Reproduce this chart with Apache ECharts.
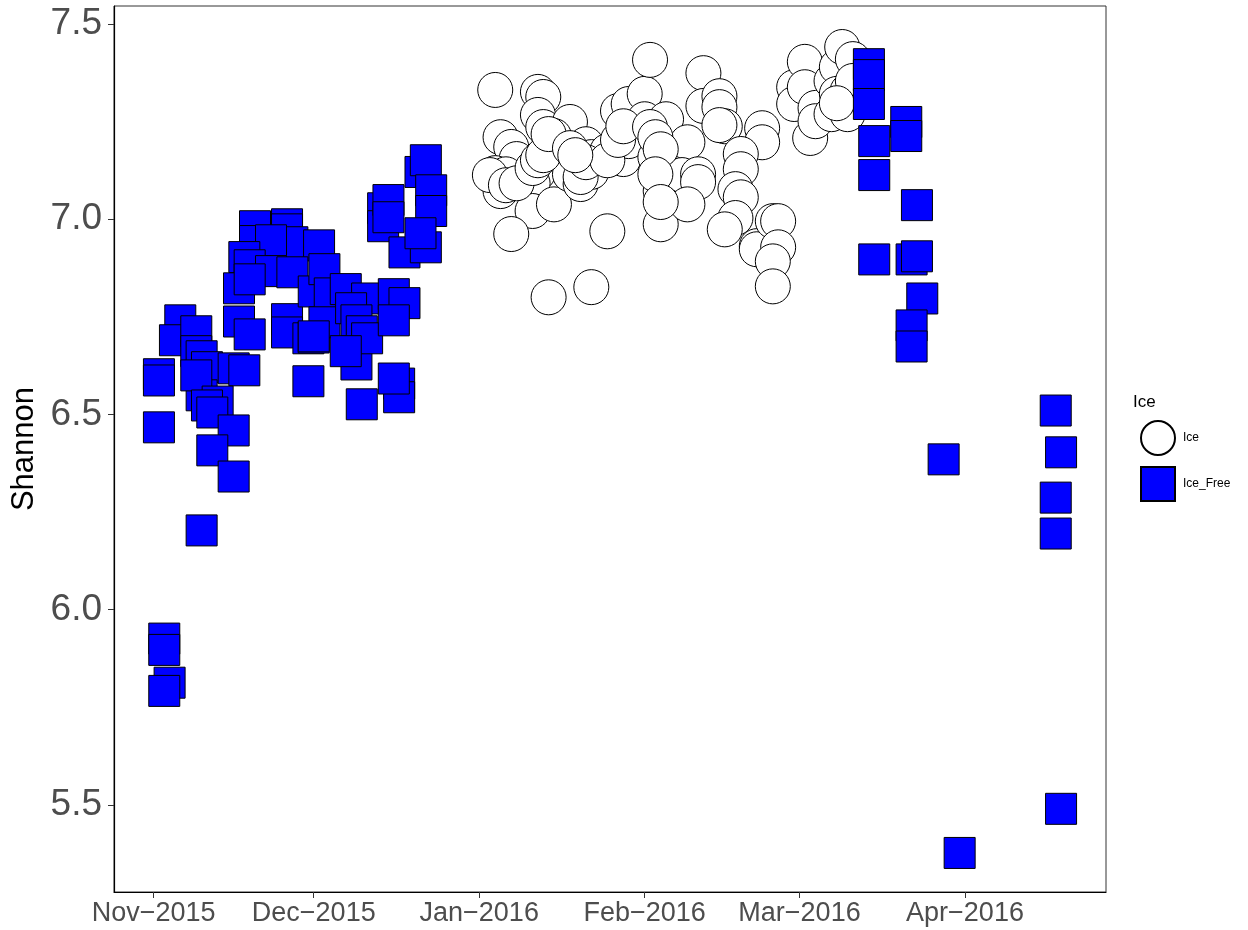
<!DOCTYPE html>
<html>
<head>
<meta charset="utf-8">
<script src="https://cdn.jsdelivr.net/npm/echarts@6/dist/echarts.min.js"></script>
<style>
html,body{margin:0;padding:0;background:#fff;}
#chart{width:1248px;height:930px;}
</style>
</head>
<body>
<div id="chart"></div>
<script>
// ---- Data ----
const tickDates = ['2015-11-01','2015-12-01','2016-01-01','2016-02-01','2016-03-01','2016-04-01'];
const tickLabels = ['Nov\u22122015','Dec\u22122015','Jan\u22122016','Feb\u22122016','Mar\u22122016','Apr\u22122016'];
const yTicks = [5.5, 6.0, 6.5, 7.0, 7.5];

const iceDates = [
'2016-01-04','2016-01-12','2016-01-13','2016-01-12','2016-01-05','2016-01-07','2016-01-08','2016-01-04','2016-01-05','2016-01-06',
'2016-01-13','2016-01-18','2016-01-15','2016-01-15','2016-01-12','2016-01-11','2016-01-11','2016-01-15','2016-01-18','2016-01-21',
'2016-01-22','2016-01-20','2016-01-22','2016-01-07','2016-01-25','2016-01-14','2016-01-22','2016-01-25','2016-01-27','2016-01-28',
'2016-01-29','2016-02-01','2016-02-02','2016-02-01','2016-01-29','2016-02-03','2016-02-04','2016-02-04','2016-02-05','2016-02-09',
'2016-02-05','2016-02-08','2016-02-11','2016-02-11','2016-02-09','2016-02-12','2016-02-12','2016-02-15','2016-02-15','2016-02-16',
'2016-02-15','2016-02-23','2016-02-23','2016-02-19','2016-02-19','2016-02-18','2016-02-19','2016-02-18','2016-02-16','2016-02-22',
'2016-02-22','2016-02-25','2016-02-26','2016-02-26','2016-02-25','2016-02-25','2016-02-29','2016-03-02','2016-02-29','2016-03-02',
'2016-03-03','2016-03-04','2016-03-04','2016-03-07','2016-03-08','2016-03-09','2016-03-11','2016-03-07','2016-03-10','2016-03-08',
'2016-03-10','2016-03-11','2016-03-08','2016-01-20','2016-01-21','2016-01-25','2016-01-27','2016-01-28','2016-02-02','2016-02-03',
'2016-02-04','2016-02-03','2016-02-04','2016-01-03','2016-01-06','2016-01-08','2016-01-11','2016-01-12','2016-01-13','2016-01-14',
'2016-01-18','2016-01-19'
];
const iceShannon = [
7.331,7.326,7.313,7.267,7.210,7.185,7.154,7.118,7.072,7.115,
7.236,7.249,7.213,7.179,7.118,7.092,7.021,7.038,7.115,7.192,
7.159,7.090,7.121,6.962,6.969,6.800,6.826,7.174,7.277,7.154,
7.295,7.321,7.408,7.256,7.200,7.159,7.072,6.987,7.256,7.197,
7.110,7.113,7.115,7.095,7.038,7.374,7.290,7.315,7.287,7.238,
7.241,7.233,7.197,7.167,7.128,7.077,7.056,7.003,6.974,6.931,
6.923,6.995,6.995,6.928,6.892,6.828,7.338,7.403,7.295,7.338,
7.208,7.285,7.251,7.354,7.390,7.441,7.410,7.269,7.269,7.321,
7.328,7.354,7.297,7.108,7.146,7.151,7.203,7.238,7.236,7.210,
7.179,7.115,7.044,7.113,7.087,7.092,7.131,7.151,7.164,7.218,
7.182,7.164
];

const freeDates = [
'2015-11-02','2015-11-02','2015-11-02','2015-11-03','2015-11-03','2015-11-04','2015-11-03',
'2015-11-06','2015-11-05','2015-11-09','2015-11-09','2015-11-10','2015-11-11','2015-11-16','2015-11-18','2015-11-10','2015-11-09',
'2015-11-13','2015-11-11','2015-11-12','2015-11-16','2015-11-12','2015-11-16','2015-11-10','2015-11-17','2015-11-19','2015-11-30',
'2015-12-10','2015-12-17','2015-12-17','2015-12-16','2015-12-09',
'2015-11-20','2015-11-26','2015-11-26','2015-11-27','2015-12-02','2015-11-20','2015-11-23','2015-11-18','2015-11-19','2015-11-23',
'2015-11-27','2015-11-17','2015-11-19','2015-11-26','2015-11-26','2015-11-30','2015-12-01','2015-12-01','2015-12-03','2015-12-04',
'2015-12-03','2015-12-07','2015-12-11','2015-12-16','2015-12-18','2015-12-08','2015-12-09','2015-12-10','2015-12-11','2015-12-16',
'2015-12-07','2015-12-14','2015-12-14','2015-12-15','2015-12-15','2015-12-18','2015-12-21','2015-12-22','2015-12-23','2015-12-23',
'2015-12-22','2015-12-21','2015-12-01',
'2016-03-14','2016-03-14','2016-03-14','2016-03-15','2016-03-15','2016-03-21','2016-03-21','2016-03-23','2016-03-15','2016-03-22',
'2016-03-23','2016-03-24','2016-03-22','2016-03-22','2016-03-28','2016-03-31','2016-04-18','2016-04-19','2016-04-18','2016-04-18',
'2016-04-19'
];
const freeShannon = [
6.603,6.587,6.467,5.926,5.897,5.813,5.792,
6.741,6.690,6.713,6.662,6.649,6.621,6.618,6.613,6.549,6.600,
6.533,6.523,6.505,6.459,6.408,6.341,6.203,6.738,6.705,6.585,
6.526,6.579,6.544,6.592,6.628,
6.982,6.987,6.974,6.941,6.933,6.944,6.946,6.903,6.882,6.867,
6.864,6.823,6.846,6.744,6.710,6.695,6.697,6.815,6.872,6.810,
6.736,6.821,6.797,6.808,6.785,6.772,6.741,6.713,6.695,6.741,
6.662,7.028,6.982,7.049,7.005,6.915,7.121,7.151,7.074,7.021,
6.928,6.964,6.700,
7.397,7.369,7.295,7.200,7.113,7.249,7.213,7.036,6.897,6.897,
6.905,6.797,6.728,6.674,6.385,5.377,6.510,6.403,6.287,6.195,
5.490
];

// ---- helpers ----
function toTime(s) {
  const p = s.split('-').map(Number);
  return Date.UTC(p[0], p[1] - 1, p[2]);
}
const tickTimes = tickDates.map(toTime);
const labelMap = {};
tickTimes.forEach((t, i) => { labelMap[t] = tickLabels[i]; });

const xMin = Date.UTC(2015, 9, 24, 14);
const xMax = Date.UTC(2016, 3, 27, 10);

const iceData = iceDates.map((d, i) => [toTime(d), iceShannon[i]]);
const freeData = freeDates.map((d, i) => [toTime(d), freeShannon[i]]);

const sans = "'Liberation Sans', Arial, Helvetica, sans-serif";

const chart = echarts.init(document.getElementById('chart'), null, {renderer: 'canvas'});
chart.setOption({
  animation: false,
  backgroundColor: '#ffffff',
  title: {
    text: 'Ice',
    left: 1133, top: 394, padding: 0,
    textStyle: {fontSize: 17, fontWeight: 'normal', color: '#000', fontFamily: sans}
  },
  legend: {
    orient: 'vertical',
    left: 1140, top: 420,
    itemWidth: 34, itemHeight: 34, itemGap: 10,
    padding: 0,
    textStyle: {fontSize: 12, color: '#000', fontFamily: sans, padding: [0, 0, 0, 3]},
    data: [
      {name: 'Ice', icon: 'circle'},
      {name: 'Ice_Free', icon: 'rect'}
    ]
  },
  grid: {
    left: 114, right: 142, top: 6, bottom: 38,
    outerBoundsMode: 'none',
    containLabel: false,
    show: true, borderColor: '#333', borderWidth: 1, backgroundColor: '#fff'
  },
  xAxis: {
    type: 'value',
    min: xMin, max: xMax,
    axisLine: {show: true, onZero: false, lineStyle: {color: '#000', width: 1.2}},
    axisTick: {show: true, customValues: tickTimes, length: 6, lineStyle: {color: '#333', width: 1}},
    axisLabel: {
      customValues: tickTimes,
      formatter: function (v) { return labelMap[v] || ''; },
      fontSize: 27, color: '#4d4d4d', fontFamily: sans, margin: 8
    },
    splitLine: {show: false}
  },
  yAxis: {
    type: 'value',
    min: 5.277, max: 7.546,
    name: 'Shannon',
    nameLocation: 'middle',
    nameGap: 72,
    nameTextStyle: {fontSize: 31, color: '#000', fontFamily: sans},
    axisLine: {show: true, onZero: false, lineStyle: {color: '#000', width: 1.2}},
    axisTick: {show: true, customValues: yTicks, length: 6, lineStyle: {color: '#333', width: 1}},
    axisLabel: {
      customValues: yTicks,
      formatter: function (v) { return Number(v).toFixed(1); },
      fontSize: 37, color: '#4d4d4d', fontFamily: sans, margin: 12
    },
    splitLine: {show: false}
  },
  series: [
    {
      name: 'Ice', type: 'scatter', symbol: 'circle', symbolSize: 35,
      itemStyle: {color: '#ffffff', borderColor: '#000', borderWidth: 1, opacity: 1},
      emphasis: {disabled: true},
      data: iceData
    },
    {
      name: 'Ice_Free', type: 'scatter', symbol: 'rect', symbolSize: 31,
      itemStyle: {color: '#0000ff', borderColor: '#000', borderWidth: 1, opacity: 1},
      emphasis: {disabled: true},
      data: freeData
    }
  ]
});
</script>
</body>
</html>
